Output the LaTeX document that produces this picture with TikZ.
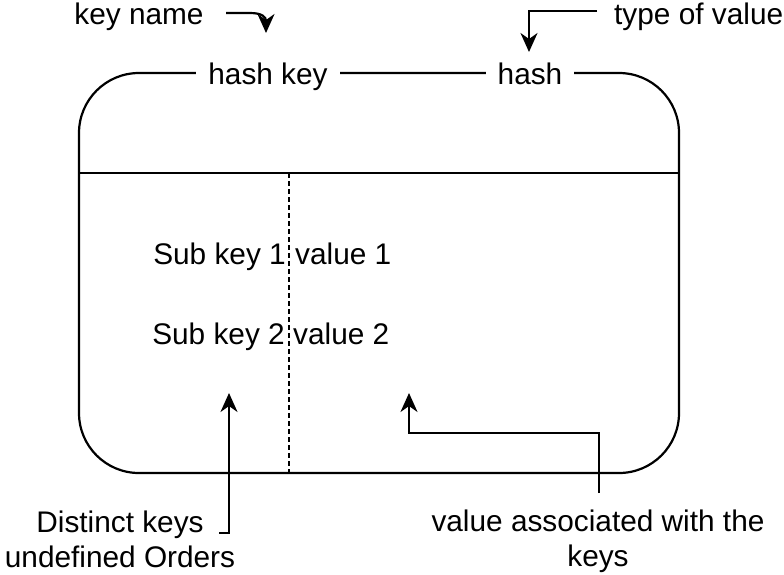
\documentclass[tikz,border=0pt]{standalone}
\usepackage{fontspec}
\setmainfont{Liberation Sans}
\usetikzlibrary{arrows.meta}
\begin{document}
\begin{tikzpicture}[x=1pt,y=-1pt,
  every node/.style={font=\fontsize{29.8}{35}\selectfont, inner sep=0pt},
  line/.style={line width=2.2pt},
  divider/.style={line width=1.6pt, dash pattern=on 5pt off 3pt},
  arr/.style={line width=2.2pt, -{Stealth[length=19pt,width=17pt,inset=6pt]}},
  lbl/.style={fill=white, inner xsep=12pt, inner ysep=6pt}]
\useasboundingbox (0,0) rectangle (784,574);

% the hash record
\node[draw, line width=2.2pt, rounded corners=60pt,
      minimum width=600pt, minimum height=400pt] (box) at (379,273) {};
\coordinate (hl) at (79,173);
\coordinate (hr) at (679,173);
\draw[line] (hl) -- (hr);
\coordinate (dtop) at (289,173);
\coordinate (dbot) at (289,473);
\draw[divider] (dtop) -- (dbot);

% header labels sitting on the top edge
\node[lbl, anchor=base] (hk) at (268,84) {hash key};
\node[lbl, anchor=base] (ht) at (530,84) {hash};

% fields
\node[anchor=base east] (sk1) at (286,264) {Sub key 1};
\node[anchor=base west] (v1) at (295,264) {value 1};
\node[anchor=base east] (sk2) at (285,344) {Sub key 2};
\node[anchor=base west] (v2) at (293,344) {value 2};

% annotations
\node[anchor=base] (kn) at (139,24) {key name};
\coordinate (kn-out) at (226,13);
\coordinate (kn-tip) at (266,33);
\draw[arr] (kn-out) -- (250,13) .. controls (262,13) and (266,17) .. (kn-tip);

\node[anchor=base west] (tv) at (614,24) {type of value};
\coordinate (tv-out) at (597,11);
\coordinate (tv-tip) at (529,52);
\draw[arr] (tv-out) -| (tv-tip);

\node[align=center] (dk) at (120,539) {Distinct keys\\undefined Orders};
\coordinate (dk-out) at (219,533);
\coordinate (dk-tip) at (229,393);
\draw[arr] (dk-out) -| (dk-tip);

\node[align=center] (va) at (598,541) {value associated with the\\keys};
\coordinate (va-out) at (599,493);
\coordinate (va-bend) at (409,433);
\coordinate (va-tip) at (409,393);
\draw[arr] (va-out) |- (va-bend) -- (va-tip);
\end{tikzpicture}
\end{document}
